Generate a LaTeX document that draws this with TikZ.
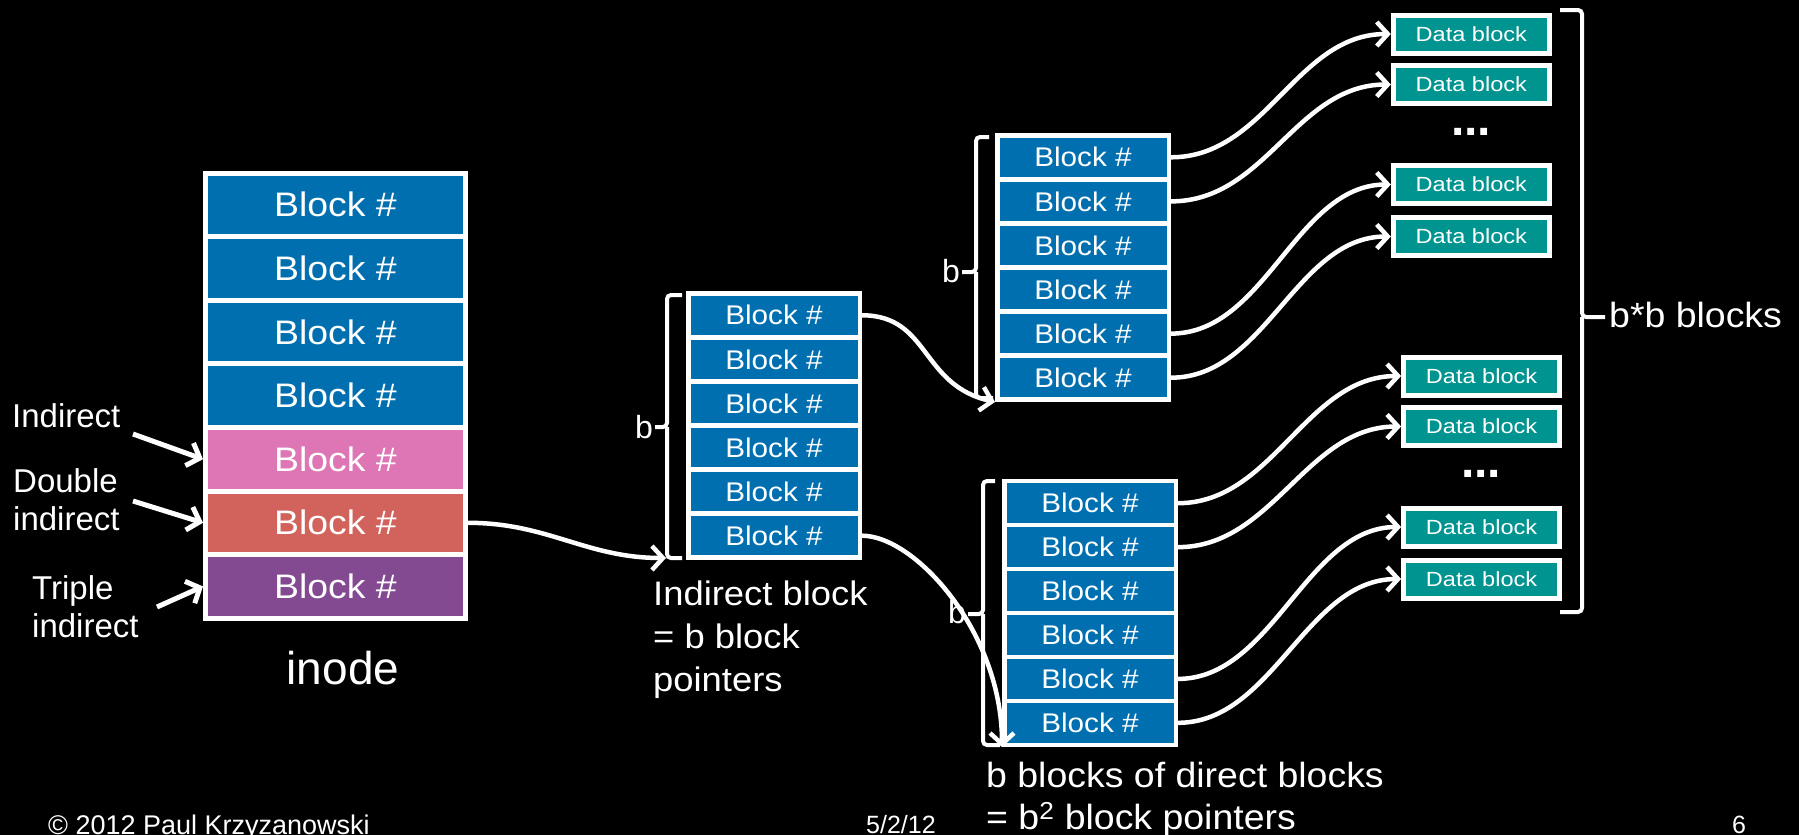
\documentclass[tikz,border=0pt]{standalone}
\usepackage{fontspec}
\setmainfont{Liberation Sans}
\newfontfamily\stretchA[FakeStretch=1.10]{Liberation Sans}
\newfontfamily\stretchB[FakeStretch=1.15]{Liberation Sans}
\newfontfamily\stretchC[FakeStretch=1.07]{Liberation Sans}
\usetikzlibrary{arrows.meta}
\definecolor{ptrblue}{RGB}{0,111,176}
\definecolor{indpink}{RGB}{222,117,181}
\definecolor{dblred}{RGB}{210,99,92}
\definecolor{tripurple}{RGB}{131,74,145}
\definecolor{datateal}{RGB}{0,148,144}
\begin{document}
\begin{tikzpicture}[x=1pt,y=-1pt,
  slot/.style={draw=white, line width=5pt, inner sep=0pt, text=white,
    minimum width=260pt, minimum height=63.6pt, font=\stretchA\fontsize{34}{40}\selectfont},
  ptr/.style={draw=white, fill=ptrblue, line width=4.5pt, inner sep=0pt, text=white,
    minimum width=171.5pt, minimum height=44.08pt, font=\stretchA\fontsize{27}{32}\selectfont},
  datablk/.style={draw=white, fill=datateal, line width=5pt, inner sep=0pt, text=white,
    minimum width=156pt, minimum height=38pt, font=\stretchB\fontsize{20.5}{24}\selectfont},
  link/.style={draw=white, line width=4.5pt, -{Straight Barb[length=11pt,width=24pt]}},
  bracket/.style={draw=white, line width=4pt, rounded corners=4pt},
  txt/.style={text=white, inner sep=0pt, align=left},
  dots/.style={text=white, inner sep=0pt, anchor=base, font=\bfseries\fontsize{48}{48}\selectfont}
]
% page
\fill[black] (0,0) rectangle (1799,835);
\useasboundingbox (0,0) rectangle (1799,835);

% inode
\node[slot, fill=ptrblue]   (n1) at (335.5,204.8) {Block \#};
\node[slot, fill=ptrblue]   (n2) at (335.5,268.4) {Block \#};
\node[slot, fill=ptrblue]   (n3) at (335.5,332.0) {Block \#};
\node[slot, fill=ptrblue]   (n4) at (335.5,395.6) {Block \#};
\node[slot, fill=indpink]   (n5) at (335.5,459.2) {Block \#};
\node[slot, fill=dblred]    (n6) at (335.5,522.8) {Block \#};
\node[slot, fill=tripurple] (n7) at (335.5,586.4) {Block \#};
\node[txt, anchor=base, font=\fontsize{46}{50}\selectfont] (inodelbl) at (343,684) {inode};

% labels on the left (base anchor = last line's baseline)
\node[txt, anchor=base west, font=\fontsize{33}{38}\selectfont] (lind) at (12,427) {Indirect};
\node[txt, anchor=base west, font=\fontsize{33}{38}\selectfont] (ldbl) at (13,530) {Double\\indirect};
\node[txt, anchor=base west, font=\fontsize{33}{38}\selectfont] (ltri) at (32,637) {Triple\\indirect};
\coordinate (aI) at (133,434);
\coordinate (aD) at (133,501);
\coordinate (aT) at (157,607);
\draw[link, line width=5pt] (aI) -- (n5.west);
\draw[link, line width=5pt] (aD) -- (n6.west);
\draw[link, line width=5pt] (aT) -- (n7.west);

% single indirect block
\foreach \i in {1,...,6}
  \node[ptr] (ind\i) at (774,{293.25+44.08*(\i-0.5)}) {Block \#};
\draw[bracket] (682,295) -| (667,427) -- (655,427);
\draw[bracket] (682,558) -| (667,427);
\node[txt, anchor=east, font=\fontsize{32}{36}\selectfont] (bind) at (653,427) {b};
\node[txt, anchor=base west, font=\stretchC\fontsize{34}{43}\selectfont] (indtxt) at (653,691)
  {Indirect block\\= b block\\pointers};
\coordinate (ibot) at (666,558);

% double indirect: upper block
\foreach \i in {1,...,6}
  \node[ptr] (ub\i) at (1083,{135.25+44.08*(\i-0.5)}) {Block \#};
\draw[bracket] (989,137) -| (976,272) -- (962,272);
\draw[bracket] (993,398) -| (976,272);
\node[txt, anchor=east, font=\fontsize{32}{36}\selectfont] (bup) at (960,271) {b};

% double indirect: lower block
\foreach \i in {1,...,6}
  \node[ptr] (lb\i) at (1090,{481.25+43.92*(\i-0.5)}) {Block \#};
\draw[bracket] (995,481) -| (983,614) -- (968,614);
\draw[bracket] (1000,745) -| (983,614);
\node[txt, anchor=east, font=\fontsize{32}{36}\selectfont] (blow) at (966,612) {b};
\node[txt, anchor=base west, font=\stretchC\fontsize{35}{42}\selectfont] (dbltxt) at (986,829)
  {b blocks of direct blocks\\= b\textsuperscript{2} block pointers};

% data blocks
\node[datablk] (d1) at (1471.3,34)  {Data block};
\node[datablk] (d2) at (1471.3,84.5) {Data block};
\node[dots] (dotsA) at (1471,135) {...};
\node[datablk] (d3) at (1471.3,184.5) {Data block};
\node[datablk] (d4) at (1471.3,236.5) {Data block};
\node[datablk] (d5) at (1481.6,376)  {Data block};
\node[datablk] (d6) at (1481.6,426.5) {Data block};
\node[dots] (dotsB) at (1481,477) {...};
\node[datablk] (d7) at (1481.6,527)  {Data block};
\node[datablk] (d8) at (1481.6,579)  {Data block};

% right brace
\draw[bracket] (1560,10) -| (1582,317) -- (1605,317);
\draw[bracket] (1560,612) -| (1582,317);
\node[txt, anchor=base west, font=\stretchC\fontsize{35}{40}\selectfont] (bbtxt) at (1609,327) {b*b blocks};

% pointers
\draw[link] (n6.east) .. controls +(80,0) and +(-80,0) .. (ibot);
\draw[link] (ind1.east) .. controls +(68,0) and +(-75,-17) .. (ub6.south west);
\draw[link] (ind6.east) .. controls +(53,0) and +(0,-115) .. (lb6.south west);
\draw[link] (ub1.east) .. controls +(95,0) and +(-95,0) .. (d1.west);
\draw[link] (ub2.east) .. controls +(95,0) and +(-95,0) .. (d2.west);
\draw[link] (ub5.east) .. controls +(95,0) and +(-95,0) .. (d3.west);
\draw[link] (ub6.east) .. controls +(95,0) and +(-95,0) .. (d4.west);
\draw[link] (lb1.east) .. controls +(95,0) and +(-95,0) .. (d5.west);
\draw[link] (lb2.east) .. controls +(95,0) and +(-95,0) .. (d6.west);
\draw[link] (lb5.east) .. controls +(95,0) and +(-95,0) .. (d7.west);
\draw[link] (lb6.east) .. controls +(95,0) and +(-95,0) .. (d8.west);

% footer
\node[txt, anchor=base west, font=\fontsize{27}{30}\selectfont] (copy) at (48,834) {\textcopyright{} 2012 Paul Krzyzanowski};
\node[txt, anchor=base west, font=\fontsize{25}{30}\selectfont] (date) at (866,833) {5/2/12};
\node[txt, anchor=base west, font=\fontsize{25}{30}\selectfont] (pg) at (1732,833) {6};
\end{tikzpicture}
\end{document}
